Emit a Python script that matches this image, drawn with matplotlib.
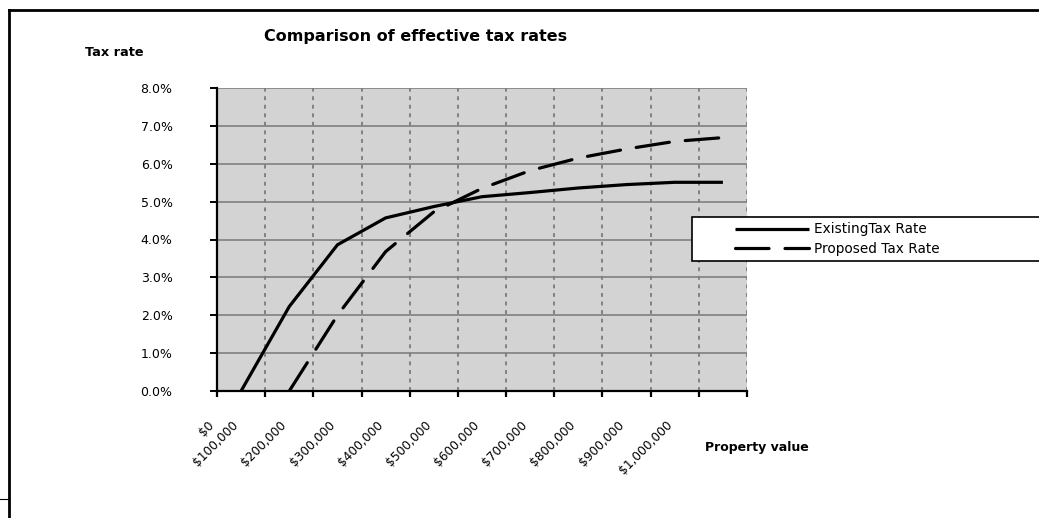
#!/usr/bin/env python3
# Comparison of effective tax rates (existing vs proposed)

import matplotlib
matplotlib.use('Agg')
import matplotlib.pyplot as plt
from matplotlib.lines import Line2D
from matplotlib.patches import Rectangle
import numpy as np

# Data (tax rate in %)
value_labels = ['$0', '$100,000', '$200,000', '$300,000', '$400,000', '$500,000',
                '$600,000', '$700,000', '$800,000', '$900,000', '$1,000,000']
existing_rate = [0.0, 2.23, 3.86, 4.57, 4.87, 5.13, 5.24, 5.36, 5.45, 5.51, 5.51]
proposed_rate = [np.nan, 0.0, 2.0, 3.68, 4.73, 5.35, 5.82, 6.15, 6.39, 6.59, 6.69]
y_ticks = [0, 1, 2, 3, 4, 5, 6, 7, 8]

plt.rcParams['font.family'] = ['DejaVu Sans']

W, H = 1039, 518
fig = plt.figure(figsize=(W / 100, H / 100), dpi=100)
ax = fig.add_axes([217 / W, 1 - 391 / H, (747 - 217) / W, (391 - 88) / H])

n = len(existing_rate)
x = np.arange(n) + 0.5

ax.set_facecolor('#d3d3d3')
ax.set_xlim(0, n)
ax.set_ylim(0, 8)

# grid: solid horizontal, dotted vertical
for yv in y_ticks[1:]:
    ax.axhline(yv, color='#7f7f7f', lw=1.2, zorder=1)
for xv in range(1, n + 1):
    ax.axvline(xv, color='#808080', lw=1.4, ls=(0, (2, 2.4)), zorder=1)

ax.plot(x, existing_rate, color='black', lw=2.3, zorder=3,
        solid_capstyle='butt', label='ExistingTax Rate')
ax.plot(x, proposed_rate, color='black', lw=2.3, zorder=3,
        dashes=(10.5, 5), dash_capstyle='round', label='Proposed Tax Rate')

for side in ['top', 'right']:
    ax.spines[side].set_visible(False)
for side in ['left', 'bottom']:
    ax.spines[side].set_linewidth(1.6)
    ax.spines[side].set_color('black')

ax.set_yticks(y_ticks)
ax.set_yticklabels([f'{v:.1f}%' for v in y_ticks], fontsize=9)
ax.tick_params(axis='y', direction='out', length=5, width=1.4, pad=27)
ax.set_xticks(range(0, n + 1))
ax.set_xticklabels([])
ax.tick_params(axis='x', direction='out', length=4, width=1.6)

# rotated category labels
label_pos = [0.0] + [k + 0.5 for k in range(n - 1)]
for pos, lab in zip(label_pos, value_labels):
    ax.text(pos, -0.09, lab, transform=ax.get_xaxis_transform(),
            rotation=45, ha='right', va='top', fontsize=8.8)

fig.text(416 / W, 1 - 37 / H, 'Comparison of effective tax rates',
         ha='center', va='center', fontsize=11.5, fontweight='bold')
fig.text(85 / W, 1 - 52 / H, 'Tax rate', ha='left', va='center',
         fontsize=9.3, fontweight='bold')
fig.text(705 / W, 1 - 447 / H, 'Property value', ha='left', va='center',
         fontsize=9, fontweight='bold')

# legend box running off the right edge
fig.patches.append(Rectangle((692 / W, 1 - 261 / H), 400 / W, 44 / H,
                             transform=fig.transFigure, facecolor='white',
                             edgecolor='black', lw=1.2, zorder=5))
leg = fig.legend(loc='center left', bbox_to_anchor=(735 / W, 1 - 239 / H),
                 bbox_transform=fig.transFigure, frameon=False, fontsize=9.8,
                 borderpad=0, borderaxespad=0, handlelength=5.4,
                 handletextpad=0.42, labelspacing=0.4)
leg.set_zorder(6)

# chart border
fig.add_artist(Line2D([9 / W, 9 / W], [0, 1 - 10 / H], color='black', lw=2,
                      transform=fig.transFigure))
fig.add_artist(Line2D([9 / W, 1.0], [1 - 10 / H, 1 - 10 / H], color='black',
                      lw=2, transform=fig.transFigure))
fig.add_artist(Line2D([0, 9 / W], [1 - 499 / H, 1 - 499 / H], color='black',
                      lw=0.8, transform=fig.transFigure))

fig.savefig('out.png', dpi=100)
